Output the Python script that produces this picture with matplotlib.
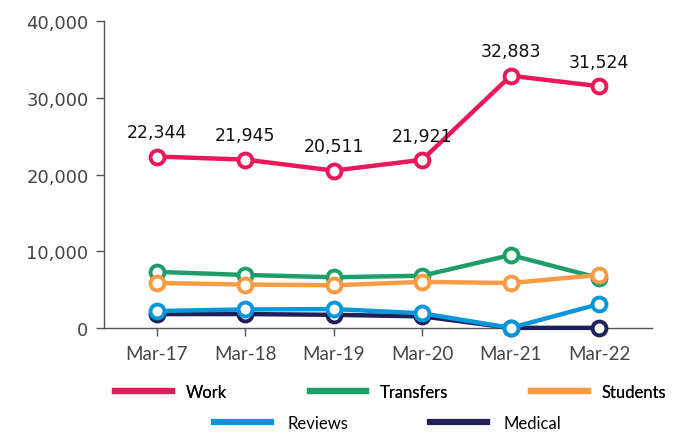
import matplotlib
matplotlib.use("Agg")
import matplotlib.pyplot as plt
from matplotlib.lines import Line2D

categories = ["Mar-17", "Mar-18", "Mar-19", "Mar-20", "Mar-21", "Mar-22"]
work = [22344, 21945, 20511, 21921, 32883, 31524]
transfers = [7300, 6900, 6600, 6800, 9500, 6500]
students = [5850, 5650, 5550, 6000, 5850, 6900]
reviews = [2200, 2400, 2450, 1900, 0, 3100]
medical = [1800, 1800, 1700, 1500, 0, 0]
yticks = [0, 10000, 20000, 30000, 40000]
ytick_labels = ["0", "10,000", "20,000", "30,000", "40,000"]

colors = {
    "Work": "#E8185A",
    "Transfers": "#1F9E6A",
    "Students": "#F79C45",
    "Reviews": "#0A96DA",
    "Medical": "#1E2158",
}

plt.rcParams['font.family'] = ['Lato', 'DejaVu Sans']
fig = plt.figure(figsize=(6.83, 4.35), dpi=100)
ax = fig.add_axes([0.152, 0.244, 0.803, 0.705])

x = list(range(len(categories)))
series = [("Medical", medical), ("Reviews", reviews), ("Transfers", transfers),
          ("Students", students), ("Work", work)]
for name, vals in series:
    ax.plot(x, vals, color=colors[name], lw=3.2, marker='o', markersize=10,
            markerfacecolor='white', markeredgecolor=colors[name],
            markeredgewidth=2.8, label=name, clip_on=False, zorder=3)

for xi, v in zip(x, work):
    ax.annotate(f"{v:,}", (xi, v), xytext=(0, 11), textcoords='offset points',
                ha='center', va='bottom', fontsize=12.5, color='#111111',
                family=['DejaVu Sans'])

ax.set_xlim(-0.6, 5.6)
ax.set_ylim(0, 40000)
ax.set_yticks(yticks)
ax.set_yticklabels(ytick_labels, family=['DejaVu Sans'], fontsize=13)
ax.set_xticks(x)
ax.set_xticklabels(categories, fontsize=13.5)
for s in ['top', 'right']:
    ax.spines[s].set_visible(False)
for s in ['left', 'bottom']:
    ax.spines[s].set_color('#555555')
    ax.spines[s].set_linewidth(1)
ax.tick_params(axis='both', colors='#555555', labelcolor='#444444',
               length=6, width=1)
ax.tick_params(axis='x', pad=6)
ax.tick_params(axis='y', pad=5)

def proxy(name):
    return Line2D([], [], color=colors[name], lw=4.5)

leg1 = fig.legend([proxy(n) for n in ["Work", "Transfers", "Students"]],
                  ["Work", "Transfers", "Students"], ncol=3, frameon=False,
                  loc='center', bbox_to_anchor=(0.572, 0.097), fontsize=12,
                  handlelength=3.4, handletextpad=0.8, columnspacing=5.0)
leg2 = fig.legend([proxy(n) for n in ["Reviews", "Medical"]],
                  ["Reviews", "Medical"], ncol=2, frameon=False,
                  loc='center', bbox_to_anchor=(0.568, 0.026), fontsize=12,
                  handlelength=3.4, handletextpad=1.0, columnspacing=4.9)
fig.add_artist(leg1)

fig.savefig("out.png", dpi=100)
